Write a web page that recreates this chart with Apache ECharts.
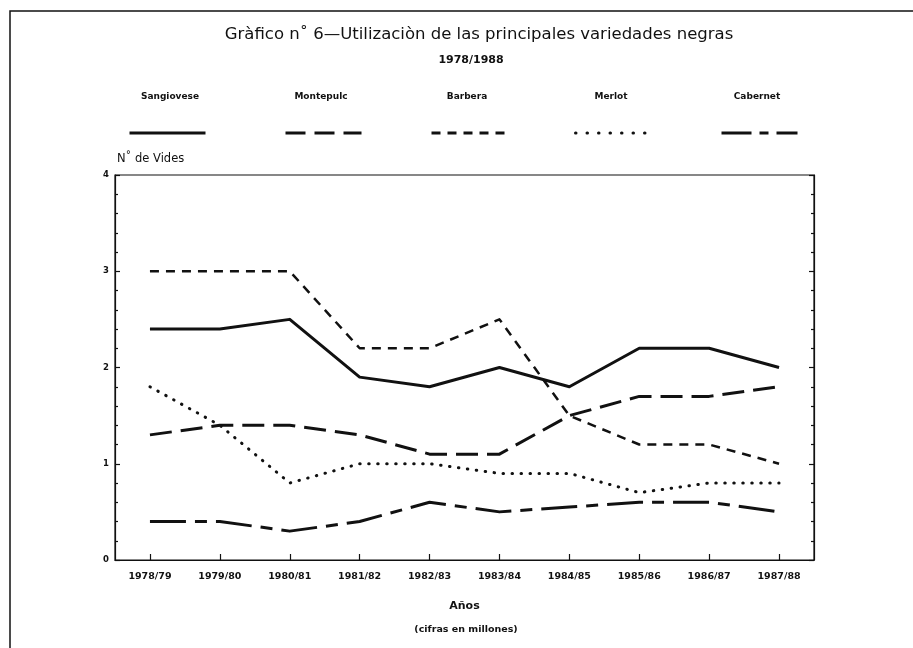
<!DOCTYPE html>
<html>
<head>
<meta charset="utf-8">
<script src="https://cdn.jsdelivr.net/npm/echarts@6/dist/echarts.min.js"></script>
<style>
html,body{margin:0;padding:0;background:#fff;}
#chart{width:913px;height:648px;}
</style>
</head>
<body>
<div id="chart"></div>
<script>
const categories = ['1978/79','1979/80','1980/81','1981/82','1982/83','1983/84','1984/85','1985/86','1986/87','1987/88'];
const sangiovese = [2.4, 2.4, 2.5, 1.9, 1.8, 2.0, 1.8, 2.2, 2.2, 2.0];
const montepulc  = [1.3, 1.4, 1.4, 1.3, 1.1, 1.1, 1.5, 1.7, 1.7, 1.8];
const barbera    = [3.0, 3.0, 3.0, 2.2, 2.2, 2.5, 1.5, 1.2, 1.2, 1.0];
const merlot     = [1.8, 1.4, 0.8, 1.0, 1.0, 0.9, 0.9, 0.7, 0.8, 0.8];
const cabernet   = [0.4, 0.4, 0.3, 0.4, 0.6, 0.5, 0.55, 0.6, 0.6, 0.5];
const seriesNames = ['Sangiovese','Montepulc','Barbera','Merlot','Cabernet'];
const yTicks = [0, 1, 2, 3, 4];

const ink = '#111';
const styles = [
  {width: 3, type: 'solid'},
  {width: 3, type: [22, 9]},
  {width: 2.5, type: [9, 7]},
  {width: 3, type: [0.5, 8.5], cap: 'round'},
  {width: 3, type: [36, 9, 12, 9]}
];
const legendDash = ['solid', [20, 9], [9, 7], [0.5, 11], [30, 8, 9, 8]];
const values = [sangiovese, montepulc, barbera, merlot, cabernet];
const legendLeft = [128, 284, 430, 574, 720];
const legendTextX = [170, 321, 467, 611, 757];

const chart = echarts.init(document.getElementById('chart'), null, {renderer: 'canvas'});

const series = seriesNames.map((n, i) => ({
  name: n,
  type: 'line',
  data: values[i],
  symbol: 'none',
  smooth: false,
  lineStyle: {color: ink, width: styles[i].width, type: styles[i].type, cap: styles[i].cap || 'butt', join: 'round'},
  itemStyle: {color: ink},
  emphasis: {disabled: true},
  z: 3
}));

const legends = seriesNames.map((n, i) => ({
  data: [n],
  left: legendLeft[i],
  top: 126,
  padding: 0,
  itemWidth: 76,
  itemHeight: 14,
  formatter: () => '',
  selectedMode: false,
  itemStyle: {opacity: 0},
  lineStyle: {width: 3, color: ink, type: legendDash[i], cap: styles[i].cap || 'butt'},
  textStyle: {fontSize: 1}
}));

const fontFam = '"DejaVu Sans", "Liberation Sans", sans-serif';

const axisCommon = {
  type: 'value', min: 0, max: 4, interval: 1,
  axisLine: {show: true, lineStyle: {color: ink, width: 1.2}},
  axisTick: {show: true, inside: true, length: 5, lineStyle: {color: ink, width: 1.2}},
  minorTick: {show: true, splitNumber: 5, length: 3, lineStyle: {color: ink, width: 1.2}},
  splitLine: {show: false}
};

const option = {
  animation: false,
  backgroundColor: '#fff',
  title: [
    {text: 'Gràfico n˚ 6—Utilizaciòn de las principales variedades negras', left: 474, top: 21, textAlign: 'center',
     textStyle: {fontFamily: fontFam, fontSize: 16.5, fontWeight: 'normal', color: '#111'}},
    {text: '1978/1988', left: 466, top: 50, textAlign: 'center',
     textStyle: {fontFamily: fontFam, fontSize: 11, fontWeight: 'bold', color: '#111'}}
  ],
  legend: legends,
  grid: {left: 115, right: 99, top: 175, bottom: 88, show: true, borderColor: ink, borderWidth: 1.2, containLabel: false},
  xAxis: {
    type: 'category', data: categories, boundaryGap: true,
    axisLine: {show: true, lineStyle: {color: ink, width: 1.2}},
    axisTick: {show: true, inside: true, alignWithLabel: true, length: 6, lineStyle: {color: ink, width: 1.2}},
    axisLabel: {margin: 12, fontFamily: fontFam, fontSize: 9.5, fontWeight: 'bold', color: '#111'},
    name: 'Años', nameLocation: 'middle', nameGap: 41,
    nameTextStyle: {fontFamily: fontFam, fontSize: 11, fontWeight: 'bold', color: '#111'}
  },
  yAxis: [
    Object.assign({}, axisCommon, {
      position: 'left',
      axisLabel: {margin: 6, fontFamily: fontFam, fontSize: 8.5, fontWeight: 'bold', color: '#111',
        formatter: v => yTicks.includes(v) ? String(v) : ''},
      name: 'N˚ de Vides', nameLocation: 'end', nameGap: 10,
      nameTextStyle: {fontFamily: fontFam, fontSize: 11.5, color: '#111', align: 'left', padding: [0, 0, 0, 2]}
    }),
    Object.assign({}, axisCommon, {position: 'right', axisLabel: {show: false}})
  ],
  graphic: [
    {type: 'polyline', shape: {points: [[10, 648], [10, 11], [913, 11]]}, style: {stroke: '#111', lineWidth: 1.5, fill: null}, silent: true},
    ...seriesNames.map((n, i) => ({
      type: 'text', x: legendTextX[i], y: 97,
      style: {text: n, textAlign: 'center', textVerticalAlign: 'middle', font: 'bold 9px ' + fontFam, fill: '#111'},
      silent: true
    })),
    {type: 'text', x: 466, y: 630,
     style: {text: '(cifras en millones)', textAlign: 'center', textVerticalAlign: 'middle', font: 'bold 9.5px ' + fontFam, fill: '#111'}, silent: true}
  ],
  series: series
};
chart.setOption(option);
</script>
</body>
</html>
